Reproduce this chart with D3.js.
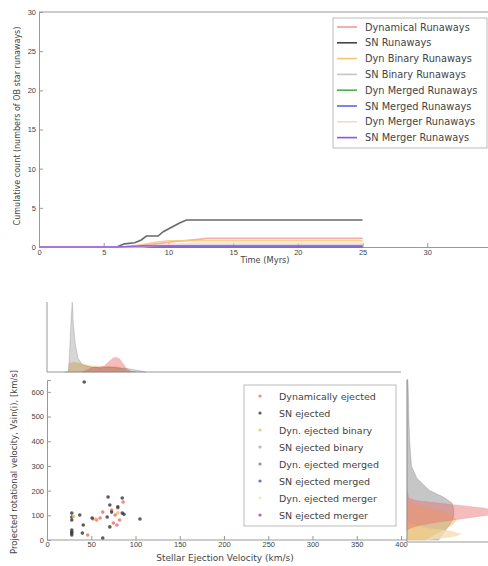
<!DOCTYPE html>
<html>
<head>
<meta charset="utf-8">
<script src="https://cdn.jsdelivr.net/npm/d3@7"></script>
<style>
  body { margin: 0; background: #fff; }
  svg { display: block; font-family: "DejaVu Sans", sans-serif; }
  .tick text { fill: #444; font-size: 7.5px; }
  .tick line, .domain { stroke: #999; }
  .lbl { fill: #444; }
</style>
</head>
<body>
<div id="chart"></div>
<script>
// ---- top panel: cumulative runaway counts ----
const seriesNames = ["Dynamical Runaways", "SN Runaways", "Dyn Binary Runaways", "SN Binary Runaways",
  "Dyn Merged Runaways", "SN Merged Runaways", "Dyn Merger Runaways", "SN Merger Runaways"];
const seriesColors = ["#f29a9a", "#444444", "#f6c66e", "#c6c6c6", "#4cae4f", "#5a6ae0", "#f9d8cd", "#9a4be8"];

const timeDyn = [0, 6.5, 7.5, 8.5, 9.5, 10.5, 11.5, 12.5, 13, 25];
const countDyn = [0, 0, 0.15, 0.3, 0.5, 0.7, 0.85, 1.0, 1.1, 1.1];
const timeSN = [0, 6.0, 6.6, 7.4, 7.9, 8.3, 9.2, 9.6, 10.1, 10.9, 11.4, 25];
const countSN = [0, 0, 0.4, 0.55, 0.9, 1.4, 1.4, 1.95, 2.4, 3.1, 3.45, 3.45];
const timeDynBin = [0, 7, 8, 9, 10, 25];
const countDynBin = [0, 0, 0.3, 0.6, 0.8, 0.8];
const timeSNBin = [0, 7, 9, 25];
const countSNBin = [0, 0, 0.25, 0.25];
const timeDynMerged = [0, 25];
const countDynMerged = [0, 0];
const timeSNMerged = [0, 25];
const countSNMerged = [0, 0];
const timeDynMerger = [0, 8, 10, 12, 25];
const countDynMerger = [0, 0, 0.3, 0.5, 0.5];
const timeSNMerger = [0, 6, 8, 25];
const countSNMerger = [0, 0, 0.15, 0.15];

const timeTicks = [0, 5, 10, 15, 20, 25, 30];
const countTicks = [0, 5, 10, 15, 20, 25, 30];

// ---- bottom panel: ejection velocity vs v sin i ----
const scatterNames = ["Dynamically ejected", "SN ejected", "Dyn. ejected binary", "SN ejected binary",
  "Dyn. ejected merged", "SN ejected merged", "Dyn. ejected merger", "SN ejected merger"];
const scatterColors = ["#e86a6a", "#333333", "#f2b85a", "#a8a8a8", "#4a9e4a", "#4050c8", "#f2dfb0", "#8040d8"];

const dynVel = [52, 46, 60, 63, 73, 75, 77, 80, 82, 79, 86, 56];
const dynRot = [85, 20, 89, 113, 121, 69, 101, 130, 81, 61, 154, 81];
const snVel = [28, 28, 28, 28, 28, 28, 28, 37, 41, 40, 51, 63, 69, 71, 73, 68, 71, 85, 80, 85, 87, 105, 42];
const snRot = [109, 93, 81, 40, 32, 28, 20, 101, 61, 28, 89, 8, 174, 142, 113, 93, 53, 170, 134, 109, 104, 85, 640];
const dynBinVel = [30, 55, 80];
const dynBinRot = [95, 85, 110];

const velTicks = [0, 50, 100, 150, 200, 250, 300, 350, 400];
const rotTicks = [0, 100, 200, 300, 400, 500, 600];

// marginal densities (relative heights)
const topGridSN = [20, 24, 25, 27, 28.5, 30, 32, 35, 40, 50, 60, 70, 80, 90, 100, 108, 112];
const topDensSN = [0, 0, 0.15, 0.7, 1.0, 0.65, 0.4, 0.2, 0.1, 0.07, 0.06, 0.07, 0.06, 0.05, 0.03, 0.01, 0];
const topGridDyn = [40, 45, 50, 55, 60, 65, 70, 75, 78, 82, 86, 90, 95, 100];
const topDensDyn = [0, 0.03, 0.06, 0.07, 0.07, 0.09, 0.15, 0.2, 0.21, 0.19, 0.12, 0.05, 0.01, 0];
const topGridDynBin = [24, 25, 30, 40, 50, 60, 70, 80, 85, 90, 95];
const topDensDynBin = [0, 0.12, 0.14, 0.12, 0.09, 0.08, 0.08, 0.08, 0.05, 0.02, 0];

const rightGridSN = [650, 600, 500, 400, 300, 250, 200, 175, 150, 125, 100, 75, 50, 25, 0];
const rightDensSN = [0.01, 0.015, 0.02, 0.03, 0.05, 0.11, 0.25, 0.4, 0.5, 0.52, 0.52, 0.5, 0.45, 0.4, 0.35];
const rightGridDyn = [200, 170, 160, 150, 140, 130, 120, 113, 100, 90, 80, 70, 60, 50, 40];
const rightDensDyn = [0, 0.02, 0.1, 0.35, 0.6, 0.85, 0.97, 1.0, 0.9, 0.7, 0.5, 0.3, 0.15, 0.05, 0];
const rightGridDynBin = [160, 140, 120, 100, 80, 60, 40, 20, 0];
const rightDensDynBin = [0, 0.1, 0.35, 0.5, 0.55, 0.5, 0.4, 0.3, 0.2];
const rightGridDynMerger = [70, 50, 35, 25, 15, 5, 0];
const rightDensDynMerger = [0, 0.2, 0.5, 0.6, 0.55, 0.35, 0.25];

const W = 488, H = 566;
const svg = d3.select("#chart").append("svg").attr("width", W).attr("height", H);

// ===== top line chart =====
const x1 = d3.scaleLinear().domain([0, 35]).range([39, 492]);
const y1 = d3.scaleLinear().domain([0, 30]).range([247, 12]);

const topG = svg.append("g");
topG.append("g").attr("transform", "translate(0,247)")
  .call(d3.axisBottom(x1).tickValues(timeTicks).tickSize(-4).tickPadding(3).tickFormat(d3.format("d")));
topG.append("g").attr("transform", "translate(39,0)")
  .call(d3.axisLeft(y1).tickValues(countTicks).tickSize(-4).tickPadding(3).tickFormat(d3.format("d")));
topG.append("line").attr("x1", 39).attr("x2", W).attr("y1", 12).attr("y2", 12).attr("stroke", "#999");

const seriesData = [
  [timeDyn, countDyn], [timeSN, countSN], [timeDynBin, countDynBin], [timeSNBin, countSNBin],
  [timeDynMerged, countDynMerged], [timeSNMerged, countSNMerged], [timeDynMerger, countDynMerger], [timeSNMerger, countSNMerger]
];
const line = d3.line().x(d => x1(d[0])).y(d => y1(d[1]));
seriesData.forEach(([t, c], i) => {
  topG.append("path")
    .datum(d3.zip(t, c))
    .attr("d", line)
    .attr("fill", "none")
    .attr("stroke", seriesColors[i])
    .attr("stroke-width", 1.6)
    .attr("opacity", 0.8);
});

topG.append("text").attr("class", "lbl").attr("font-size", 8.3)
  .attr("x", 265).attr("y", 263).attr("text-anchor", "middle").text("Time (Myrs)");
topG.append("text").attr("class", "lbl").attr("font-size", 8)
  .attr("transform", "translate(20,126) rotate(-90)")
  .attr("text-anchor", "middle").text("Cumulative count (numbers of OB star runaways)");

// legend
const leg1 = topG.append("g");
leg1.append("rect").attr("x", 333).attr("y", 18).attr("width", 154).attr("height", 130)
  .attr("fill", "#fff").attr("stroke", "#bbb");
seriesNames.forEach((name, i) => {
  const yy = 27 + i * 15.8;
  leg1.append("line").attr("x1", 337).attr("x2", 357).attr("y1", yy).attr("y2", yy)
    .attr("stroke", seriesColors[i]).attr("stroke-width", 1.6);
  leg1.append("text").attr("x", 365).attr("y", yy + 3.5).attr("font-size", 9.8).attr("fill", "#444").text(name);
});

// ===== bottom scatter =====
const x2 = d3.scaleLinear().domain([0, 400]).range([47, 401]);
const y2 = d3.scaleLinear().domain([0, 648]).range([540, 380]);

const bot = svg.append("g");
bot.append("g").attr("transform", "translate(0,540)")
  .call(d3.axisBottom(x2).tickValues(velTicks).tickSize(-4).tickPadding(2).tickFormat(d3.format("d")))
  .call(g => g.select(".domain").attr("d", "M47,0H407"));
bot.append("g").attr("transform", "translate(47,0)")
  .call(d3.axisLeft(y2).tickValues(rotTicks).tickSize(-4).tickPadding(3).tickFormat(d3.format("d")));

const sets = [
  [dynVel, dynRot, 0], [snVel, snRot, 1], [dynBinVel, dynBinRot, 2]
];
sets.forEach(([vx, vy, ci]) => {
  bot.append("g").selectAll("circle").data(d3.zip(vx, vy)).join("circle")
    .attr("cx", d => x2(d[0])).attr("cy", d => y2(d[1])).attr("r", 1.8)
    .attr("fill", scatterColors[ci]).attr("opacity", 0.8);
});

bot.append("text").attr("class", "lbl").attr("font-size", 9)
  .attr("x", 225).attr("y", 561).attr("text-anchor", "middle")
  .text("Stellar Ejection Velocity (km/s)");
bot.append("text").attr("class", "lbl").attr("font-size", 8.5)
  .attr("transform", "translate(17,462) rotate(-90)")
  .attr("text-anchor", "middle").text("Projected rotational velocity, Vsin(i), [km/s]");

// legend
const leg2 = bot.append("g");
leg2.append("rect").attr("x", 244).attr("y", 385).attr("width", 152).attr("height", 141)
  .attr("fill", "#fff").attr("stroke", "#bbb");
scatterNames.forEach((name, i) => {
  const yy = 396 + i * 17;
  leg2.append("circle").attr("cx", 260).attr("cy", yy).attr("r", 1.6).attr("fill", scatterColors[i]).attr("opacity", 0.8);
  leg2.append("text").attr("x", 279).attr("y", yy + 3.5).attr("font-size", 9.5).attr("fill", "#444").text(name);
});

// top marginal
const mTop = d3.scaleLinear().domain([0, 1]).range([372, 302]);
const margTop = svg.append("g");
[[topGridDynBin, topDensDynBin, 2], [topGridDyn, topDensDyn, 0], [topGridSN, topDensSN, 1]].forEach(([gx, gd, ci]) => {
  margTop.append("path").datum(d3.zip(gx, gd))
    .attr("d", d3.area().x(d => x2(d[0])).y0(372).y1(d => mTop(d[1])))
    .attr("fill", scatterColors[ci]).attr("fill-opacity", ci === 1 ? 0.2 : 0.45)
    .attr("stroke", scatterColors[ci]).attr("stroke-opacity", 0.3).attr("stroke-width", 0.6);
});
margTop.append("line").attr("x1", 47).attr("x2", 401).attr("y1", 372).attr("y2", 372).attr("stroke", "#999");
margTop.append("line").attr("x1", 47).attr("x2", 47).attr("y1", 302).attr("y2", 372).attr("stroke", "#999");

// right marginal
const mRight = d3.scaleLinear().domain([0, 1]).range([407, 497]);
const margRight = svg.append("g");
[[rightGridSN, rightDensSN, 1], [rightGridDynMerger, rightDensDynMerger, 6], [rightGridDynBin, rightDensDynBin, 2], [rightGridDyn, rightDensDyn, 0]]
  .forEach(([gy, gd, ci]) => {
    margRight.append("path").datum(d3.zip(gy, gd))
      .attr("d", d3.area().y(d => y2(d[0])).x0(407).x1(d => mRight(d[1])))
      .attr("fill", scatterColors[ci]).attr("fill-opacity", ci === 1 ? 0.28 : (ci === 6 ? 0.8 : 0.45))
      .attr("stroke", scatterColors[ci]).attr("stroke-opacity", 0.3).attr("stroke-width", 0.6);
  });
margRight.append("line").attr("x1", 407).attr("x2", W).attr("y1", 542).attr("y2", 542).attr("stroke", "#999");
margRight.append("line").attr("x1", 407).attr("x2", 407).attr("y1", 380).attr("y2", 542).attr("stroke", "#999");
</script>
</body>
</html>
